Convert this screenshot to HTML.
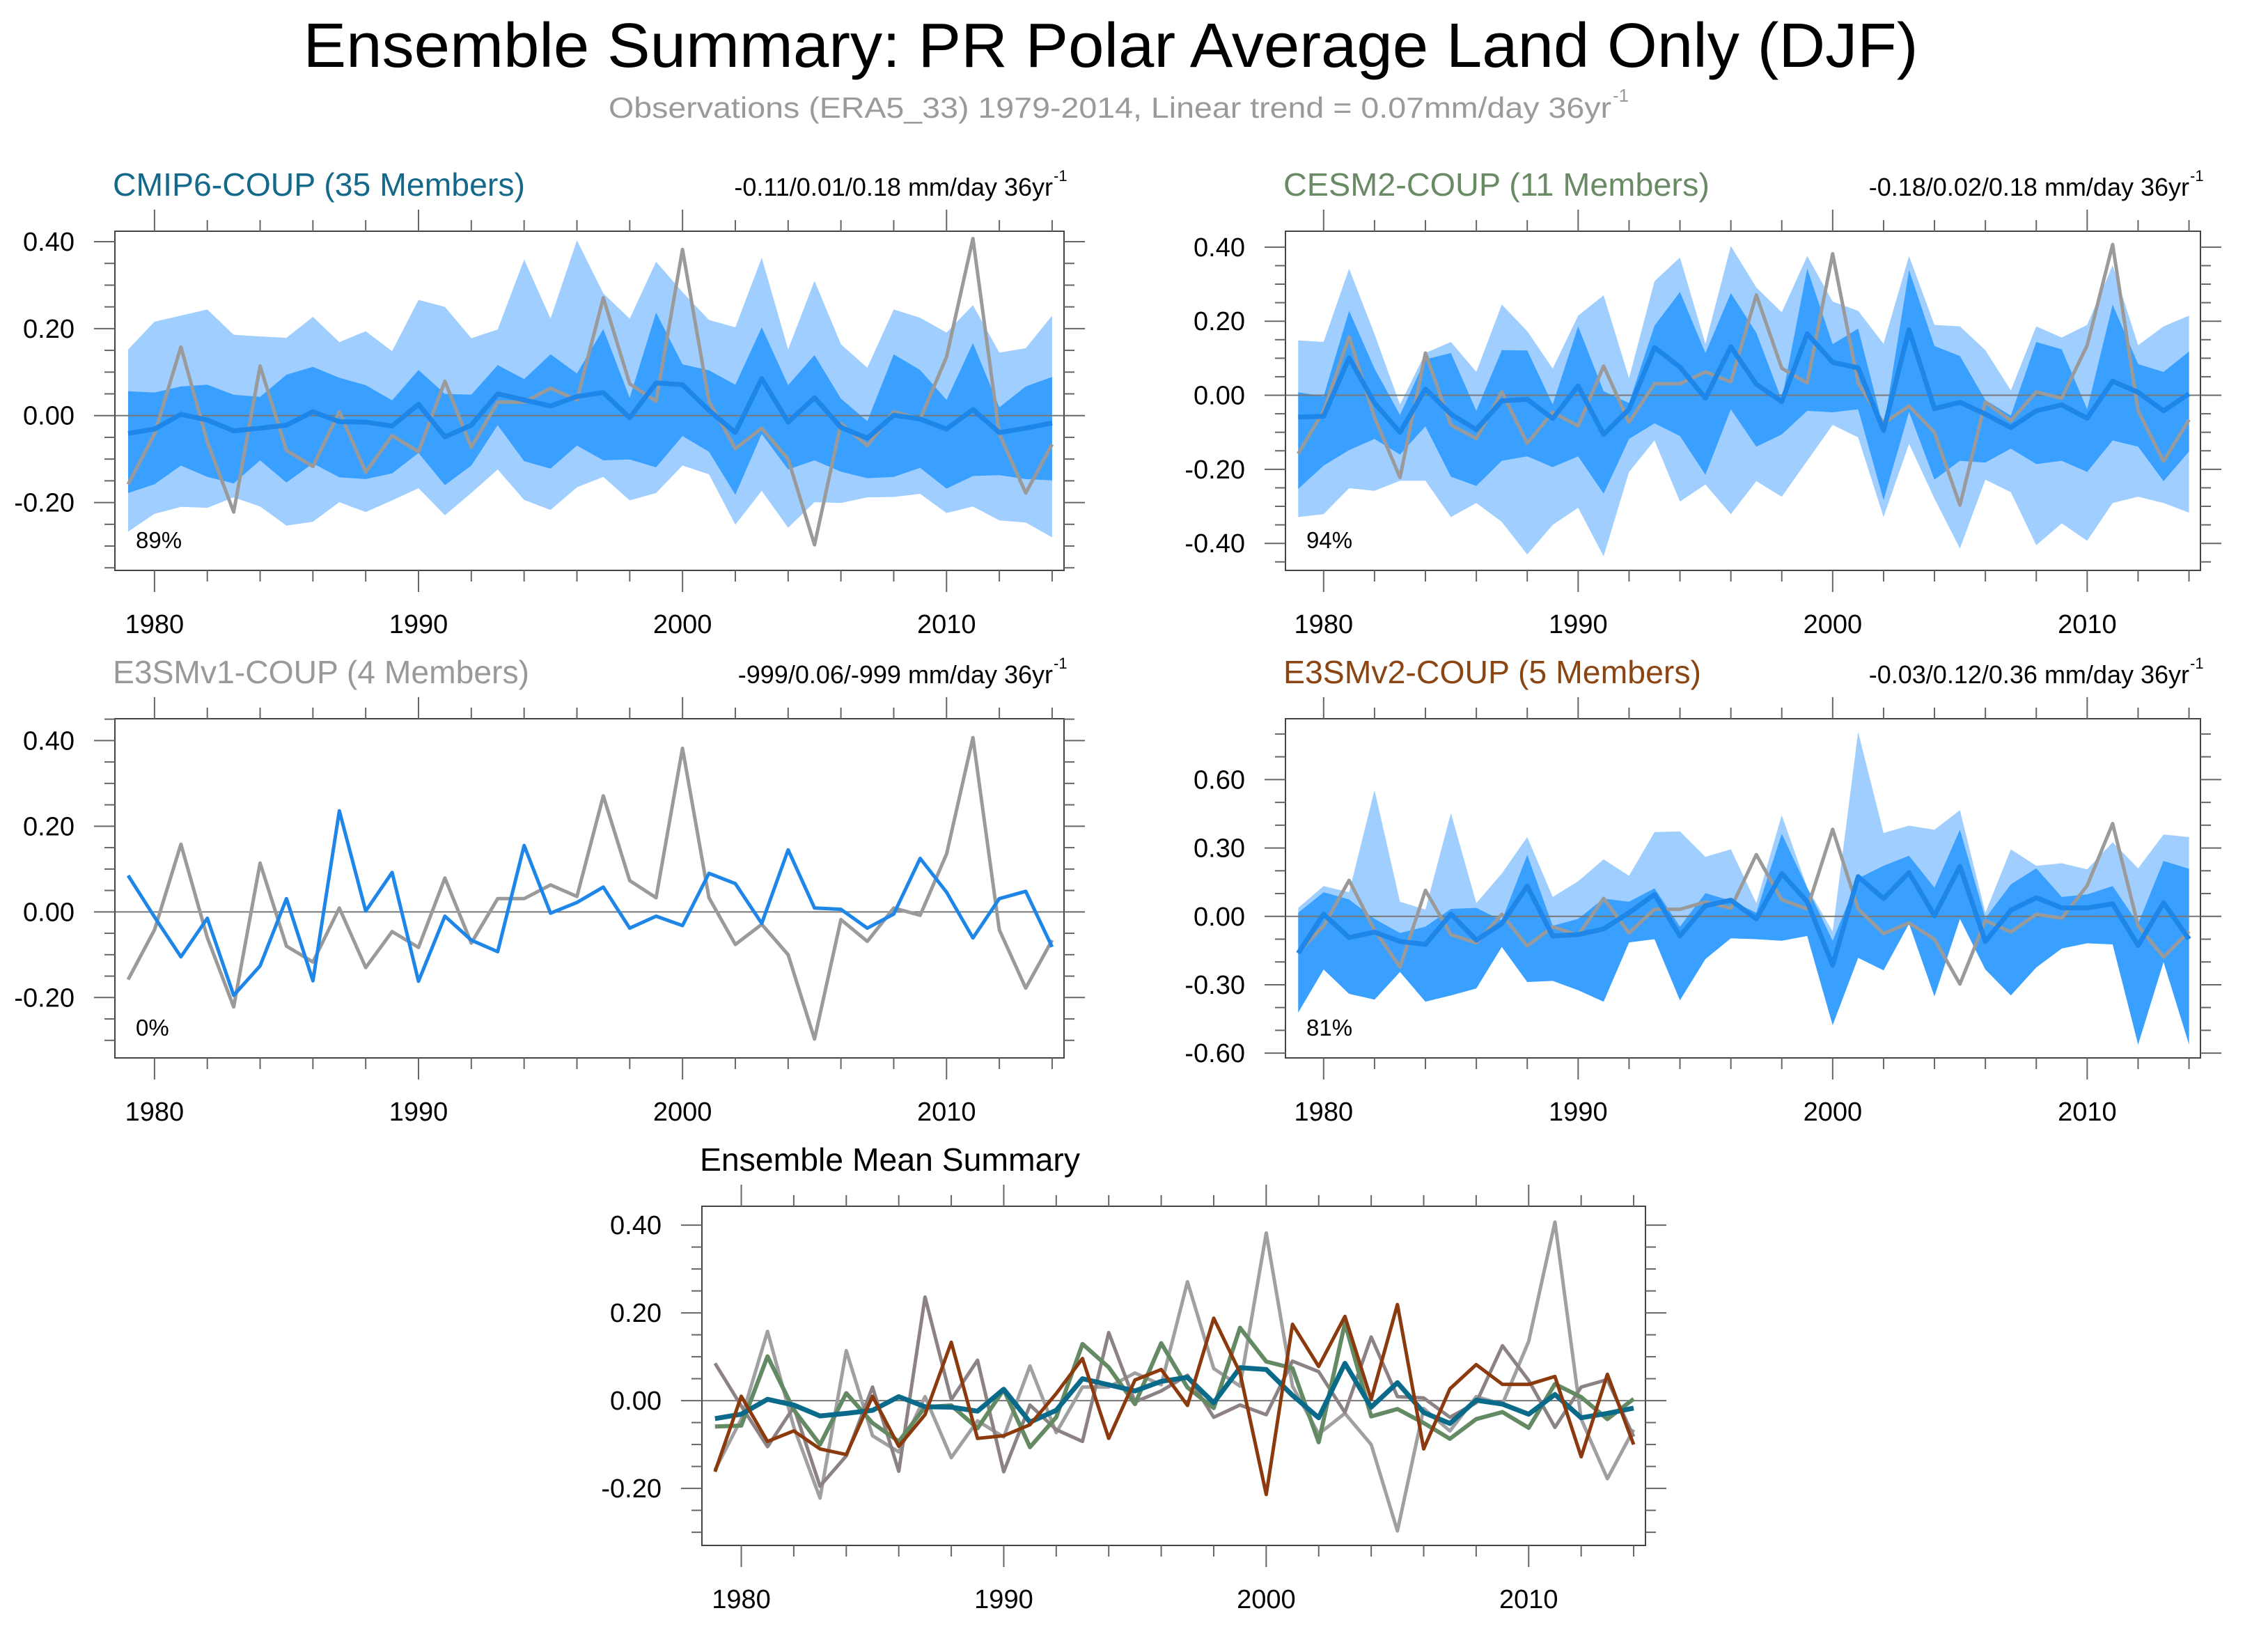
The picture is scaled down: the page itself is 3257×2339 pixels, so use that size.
<!DOCTYPE html>
<html><head><meta charset="utf-8"><style>
html,body{margin:0;padding:0;background:#fff;}
svg{display:block;font-family:"Liberation Sans",Arial,sans-serif;}
</style></head><body>
<svg id="fig" width="3257" height="2339" viewBox="0 0 3257 2339" xmlns="http://www.w3.org/2000/svg">
<rect x="0" y="0" width="3257" height="2339" fill="#fff"/>
<text x="1595" y="96" font-size="90" text-anchor="middle" textLength="2319" lengthAdjust="spacingAndGlyphs" fill="#000">Ensemble Summary: PR Polar Average Land Only (DJF)</text>
<text x="874" y="169" font-size="42" fill="#9a9a9a" textLength="1440" lengthAdjust="spacingAndGlyphs">Observations (ERA5_33) 1979-2014, Linear trend = 0.07mm/day 36yr</text>
<text x="2316" y="146" font-size="26" fill="#9a9a9a">-1</text>
</svg>
<script>
const years = [1979,1980,1981,1982,1983,1984,1985,1986,1987,1988,1989,1990,1991,1992,1993,1994,1995,1996,1997,1998,1999,2000,2001,2002,2003,2004,2005,2006,2007,2008,2009,2010,2011,2012,2013,2014];
const obs = [-0.158,-0.042,0.158,-0.060,-0.222,0.114,-0.080,-0.117,0.009,-0.130,-0.046,-0.083,0.079,-0.073,0.031,0.031,0.063,0.036,0.271,0.073,0.033,0.382,0.033,-0.076,-0.029,-0.100,-0.297,-0.018,-0.069,0.009,-0.008,0.135,0.407,-0.042,-0.178,-0.066];

const cmipMean = [-0.041,-0.031,0.003,-0.010,-0.035,-0.029,-0.022,0.009,-0.014,-0.015,-0.024,0.026,-0.049,-0.022,0.050,0.036,0.022,0.044,0.053,-0.005,0.075,0.071,0.012,-0.039,0.085,-0.015,0.041,-0.027,-0.052,0.001,-0.008,-0.031,0.014,-0.039,-0.029,-0.017];
const cmipDarkHi = [0.056,0.053,0.067,0.071,0.048,0.043,0.094,0.112,0.087,0.070,0.035,0.105,0.050,0.048,0.116,0.084,0.141,0.097,0.199,0.041,0.237,0.118,0.104,0.071,0.203,0.070,0.139,0.039,-0.013,0.141,0.105,0.036,0.167,0.019,0.067,0.089];
const cmipDarkLo = [-0.178,-0.158,-0.115,-0.141,-0.156,-0.103,-0.154,-0.110,-0.142,-0.146,-0.133,-0.086,-0.160,-0.115,-0.022,-0.105,-0.122,-0.069,-0.103,-0.101,-0.119,-0.047,-0.083,-0.182,-0.042,-0.124,-0.103,-0.129,-0.144,-0.141,-0.120,-0.168,-0.139,-0.137,-0.146,-0.149];
const cmipLightHi = [0.152,0.216,0.230,0.244,0.186,0.182,0.179,0.227,0.169,0.194,0.148,0.266,0.250,0.178,0.198,0.359,0.223,0.403,0.281,0.223,0.354,0.284,0.220,0.203,0.363,0.152,0.310,0.164,0.110,0.244,0.225,0.191,0.254,0.145,0.155,0.230];
const cmipLightLo = [-0.267,-0.226,-0.210,-0.212,-0.188,-0.209,-0.253,-0.244,-0.199,-0.222,-0.195,-0.167,-0.229,-0.178,-0.124,-0.194,-0.217,-0.165,-0.141,-0.195,-0.178,-0.115,-0.135,-0.251,-0.173,-0.258,-0.199,-0.201,-0.188,-0.187,-0.180,-0.224,-0.209,-0.241,-0.246,-0.280];

const cesmMean = [-0.059,-0.057,0.101,-0.021,-0.100,0.017,-0.051,-0.093,-0.015,-0.011,-0.063,0.025,-0.106,-0.038,0.129,0.076,-0.008,0.131,0.030,-0.017,0.166,0.089,0.074,-0.095,0.177,-0.036,-0.019,-0.051,-0.087,-0.042,-0.026,-0.062,0.038,0.008,-0.042,0.004];
const cesmDarkHi = [0.008,-0.003,0.228,0.072,-0.053,0.097,0.114,-0.042,0.122,0.121,-0.025,0.186,0.011,-0.021,0.188,0.279,0.114,0.276,0.169,-0.013,0.342,0.138,0.180,-0.089,0.338,0.133,0.106,-0.013,-0.055,0.144,0.124,-0.038,0.245,0.084,0.063,0.118];
const cesmDarkLo = [-0.253,-0.190,-0.148,-0.118,-0.160,-0.084,-0.220,-0.245,-0.177,-0.165,-0.194,-0.165,-0.266,-0.118,-0.076,-0.110,-0.215,-0.038,-0.139,-0.106,-0.042,-0.046,-0.038,-0.283,-0.045,-0.228,-0.177,-0.182,-0.144,-0.186,-0.177,-0.207,-0.122,-0.139,-0.232,-0.152];
const cesmLightHi = [0.148,0.144,0.342,0.165,-0.025,0.114,0.144,0.063,0.245,0.173,0.072,0.215,0.270,0.046,0.308,0.372,0.139,0.403,0.291,0.224,0.376,0.253,0.228,0.139,0.376,0.190,0.186,0.122,0.013,0.186,0.156,0.190,0.351,0.135,0.186,0.215];
const cesmLightLo = [-0.329,-0.321,-0.251,-0.258,-0.231,-0.231,-0.329,-0.291,-0.342,-0.430,-0.350,-0.304,-0.435,-0.207,-0.122,-0.287,-0.241,-0.321,-0.232,-0.274,-0.177,-0.080,-0.114,-0.329,-0.131,-0.279,-0.414,-0.228,-0.262,-0.405,-0.346,-0.393,-0.291,-0.274,-0.291,-0.317];

const e3v1Mean = [0.085,-0.012,-0.105,-0.015,-0.195,-0.126,0.031,-0.161,0.236,0.002,0.092,-0.162,-0.010,-0.066,-0.093,0.155,-0.003,0.022,0.058,-0.038,-0.010,-0.032,0.090,0.066,-0.027,0.145,0.009,0.006,-0.038,-0.005,0.125,0.046,-0.061,0.031,0.048,-0.082];

const e3v2Mean = [-0.162,0.010,-0.093,-0.069,-0.110,-0.123,0.010,-0.104,-0.032,0.133,-0.086,-0.080,-0.055,0.016,0.096,-0.086,0.047,0.071,-0.011,0.188,0.064,-0.214,0.174,0.078,0.192,0.003,0.219,-0.110,0.027,0.082,0.037,0.037,0.055,-0.128,0.060,-0.100];
const e3v2DarkHi = [0.016,0.106,0.074,-0.011,-0.073,-0.045,0.033,0.037,-0.018,0.270,-0.041,-0.011,0.078,0.064,0.123,-0.045,0.102,0.069,0.016,0.362,0.126,-0.107,0.167,0.222,0.266,0.126,0.380,-0.008,0.140,0.211,0.085,0.096,0.133,-0.032,0.243,0.209];
const e3v2DarkLo = [-0.422,-0.233,-0.340,-0.365,-0.244,-0.374,-0.347,-0.316,-0.134,-0.288,-0.283,-0.324,-0.374,-0.114,-0.100,-0.368,-0.187,-0.096,-0.100,-0.107,-0.086,-0.477,-0.182,-0.237,-0.032,-0.351,-0.011,-0.233,-0.347,-0.224,-0.141,-0.118,-0.123,-0.562,-0.200,-0.562];
const e3v2LightHi = [0.037,0.133,0.106,0.554,0.064,0.030,0.453,0.058,0.188,0.348,0.085,0.154,0.250,0.178,0.370,0.373,0.261,0.294,0.058,0.444,0.126,-0.066,0.809,0.366,0.398,0.380,0.466,0.016,0.294,0.222,0.233,0.206,0.325,0.211,0.359,0.348];
const e3v2LightLo = [-0.422,-0.233,-0.340,-0.365,-0.244,-0.374,-0.347,-0.316,-0.134,-0.288,-0.283,-0.324,-0.374,-0.114,-0.100,-0.368,-0.187,-0.096,-0.100,-0.107,-0.086,-0.477,-0.182,-0.237,-0.032,-0.351,-0.011,-0.233,-0.347,-0.224,-0.141,-0.118,-0.123,-0.562,-0.200,-0.562];

const xTickLabels = ['1980','1990','2000','2010'];
const pctLabels = ['89%','94%','0%','81%'];

const NS = 'http://www.w3.org/2000/svg';
const svg = document.getElementById('fig');
function mk(tag, attrs, parent){
  const e = document.createElementNS(NS, tag);
  for (const k in attrs) e.setAttribute(k, attrs[k]);
  (parent||svg).appendChild(e);
  return e;
}
let clipId = 0;
function panel(cfg){
  const g = mk('g', {});
  
  
  const x0=cfg.box[0], y0=cfg.box[1], x1=cfg.box[2], y1=cfg.box[3];
  const xs = yr => x0 + (yr - 1978.5) / (2014.45 - 1978.5) * (x1 - x0);
  const ys = v => y1 - (v - cfg.ymin) / (cfg.ymax - cfg.ymin) * (y1 - y0);
  const cid = 'clip' + (clipId++);
  const cp = mk('clipPath', {id: cid}, g);
  mk('rect', {x:x0, y:y0, width:x1-x0, height:y1-y0}, cp);
  const plot = mk('g', {'clip-path': 'url(#'+cid+')'}, g);
  function band(hi, lo, color, nm){
    let pts = years.map((y,i)=>xs(y).toFixed(1)+','+ys(hi[i]).toFixed(1));
    for (let i=years.length-1;i>=0;i--) pts.push(xs(years[i]).toFixed(1)+','+ys(lo[i]).toFixed(1));
    const p = mk('polygon', {points: pts.join(' '), fill: color}, plot);
    
    
  }
  function line(vals, color, w, nm){
    const pts = years.map((y,i)=>xs(y).toFixed(1)+','+ys(vals[i]).toFixed(1)).join(' ');
    const p = mk('polyline', {points: pts, fill:'none', stroke: color, 'stroke-width': w, 'stroke-linejoin':'round'}, plot);
    
    
  }
  (cfg.bands||[]).forEach(b=>band(b[0], b[1], b[2], b[3]));
  mk('line', {x1:x0, x2:x1, y1:ys(0), y2:ys(0), stroke:'#777', 'stroke-width':2}, plot);
  (cfg.lines||[]).forEach(l=>line(l[0], l[1], l[2], l[3]));
  const fr = mk('rect', {x:x0, y:y0, width:x1-x0, height:y1-y0, fill:'none', stroke:'#444', 'stroke-width':2}, g);
  
  
  for (let yr=1980; yr<=2014; yr+=2){
    const major = (yr % 10 === 0);
    const L = major ? 31 : 16;
    const x = xs(yr);
    mk('line', {x1:x, x2:x, y1:y0, y2:y0-L, stroke:'#666', 'stroke-width':2}, g);
    mk('line', {x1:x, x2:x, y1:y1, y2:y1+L, stroke:'#666', 'stroke-width':2}, g);
  }
  xTickLabels.forEach(t=>{
    const tx = mk('text', {x: xs(+t), y: y1+90, 'font-size': 38, 'text-anchor':'middle', fill:'#000'}, g);
    tx.textContent = t;
    
    
  });
  const st = cfg.minor;
  for (let k=Math.ceil(cfg.ymin/st - 1e-6); k*st<=cfg.ymax+1e-9; k++){
    const v = k*st;
    const isMajor = cfg.majors.some(m=>Math.abs(m-v)<1e-6);
    const L = isMajor ? 30 : 15;
    const y = ys(v);
    mk('line', {x1:x0, x2:x0-L, y1:y, y2:y, stroke:'#666', 'stroke-width':2}, g);
    mk('line', {x1:x1, x2:x1+L, y1:y, y2:y, stroke:'#666', 'stroke-width':2}, g);
  }
  cfg.majors.forEach(m=>{
    const tx = mk('text', {x: x0-58, y: ys(m)+13, 'font-size': 38, 'text-anchor':'end', fill:'#000'}, g);
    tx.textContent = m.toFixed(2);
    
    
  });
  const tt = mk('text', {x: x0-3, y: y0-51, 'font-size': 46, fill: cfg.titleColor, textLength: cfg.titleLen, lengthAdjust:'spacingAndGlyphs'}, g);
  tt.textContent = cfg.title;
  
  
  if (cfg.right){
    const rt = mk('text', {x: x1-16, y: y0-51, 'font-size': 36, 'text-anchor':'end', fill:'#000'}, g);
    rt.textContent = cfg.right;
    
    
    const sp = mk('text', {x: x1-15, y: y0-72, 'font-size': 22, fill:'#000'}, g);
    sp.textContent = '-1';
    
    
  }
  if (cfg.pct){
    const pt = mk('text', {x: x0+30, y: y1-32, 'font-size': 33, fill:'#000'}, g);
    pt.textContent = cfg.pct;
    
    
  }
}
const LB='#a0cfff', DB='#39a0ff', MB='#1e86e8', OG='#9a9a9a';
panel({name:'cmip6-panel', box:[165,332,1528,819], ymin:-0.356, ymax:0.424, minor:0.05, majors:[-0.2,0,0.2,0.4],
  title:'CMIP6-COUP (35 Members)', titleColor:'#14698a', titleLen:592, right:'-0.11/0.01/0.18 mm/day 36yr', pct:pctLabels[0],
  bands:[[cmipLightHi,cmipLightLo,LB,'cmip6-outer-range'],[cmipDarkHi,cmipDarkLo,DB,'cmip6-inner-range']],
  lines:[[obs,OG,5,'obs-line'],[cmipMean,MB,7,'cmip6-mean-line']]});
panel({name:'cesm2-panel', box:[1846,332,3160,819], ymin:-0.473, ymax:0.443, minor:0.05, majors:[-0.4,-0.2,0,0.2,0.4],
  title:'CESM2-COUP (11 Members)', titleColor:'#6a8a66', titleLen:612, right:'-0.18/0.02/0.18 mm/day 36yr', pct:pctLabels[1],
  bands:[[cesmLightHi,cesmLightLo,LB,'cesm2-outer-range'],[cesmDarkHi,cesmDarkLo,DB,'cesm2-inner-range']],
  lines:[[obs,OG,5,'obs-line'],[cesmMean,MB,7,'cesm2-mean-line']]});
panel({name:'e3smv1-panel', box:[165,1032,1528,1519], ymin:-0.341, ymax:0.451, minor:0.05, majors:[-0.2,0,0.2,0.4],
  title:'E3SMv1-COUP (4 Members)', titleColor:'#999999', titleLen:598, right:'-999/0.06/-999 mm/day 36yr', pct:pctLabels[2],
  bands:[], lines:[[obs,OG,5,'obs-line'],[e3v1Mean,MB,5,'e3smv1-mean-line']]});
panel({name:'e3smv2-panel', box:[1846,1032,3160,1519], ymin:-0.621, ymax:0.867, minor:0.1, majors:[-0.6,-0.3,0,0.3,0.6],
  title:'E3SMv2-COUP (5 Members)', titleColor:'#8b4513', titleLen:600, right:'-0.03/0.12/0.36 mm/day 36yr', pct:pctLabels[3],
  bands:[[e3v2LightHi,e3v2LightLo,LB,'e3smv2-outer-range'],[e3v2DarkHi,e3v2DarkLo,DB,'e3smv2-inner-range']],
  lines:[[obs,OG,5,'obs-line'],[e3v2Mean,MB,7,'e3smv2-mean-line']]});
panel({name:'ensemble-mean-panel', box:[1008,1732,2363,2219], ymin:-0.330, ymax:0.443, minor:0.05, majors:[-0.2,0,0.2,0.4],
  title:'Ensemble Mean Summary', titleColor:'#000', titleLen:546, right:null, pct:null, bands:[],
  lines:[[obs,'#a0a0a0',5,'obs-line'],[e3v1Mean,'#8c8284',5,'e3smv1-mean-line'],[cesmMean,'#648a64',6,'cesm2-mean-line'],[cmipMean,'#0a6a8a',7,'cmip6-mean-line'],[e3v2Mean,'#8b3a0e',5,'e3smv2-mean-line']]});
</script>
</body></html>
